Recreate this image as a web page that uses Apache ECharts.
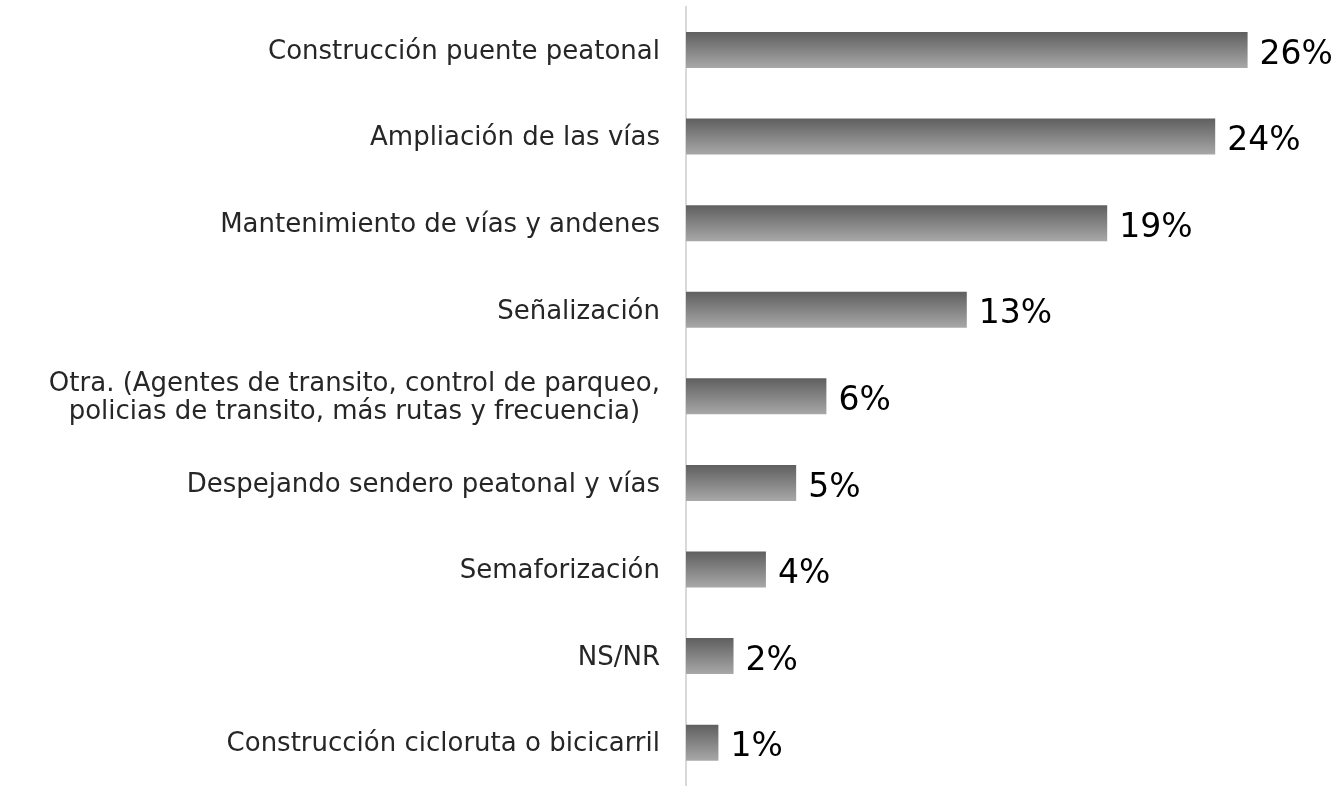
<!DOCTYPE html>
<html>
<head>
<meta charset="utf-8">
<script src="https://cdn.jsdelivr.net/npm/echarts@6/dist/echarts.min.js"></script>
<style>
html,body{margin:0;padding:0;background:#fff;}
#chart{width:1339px;height:786px;}
</style>
</head>
<body>
<div id="chart"></div>
<script>
var categories = [
  'Construcción puente peatonal',
  'Ampliación de las vías',
  'Mantenimiento de vías y andenes',
  'Señalización',
  'Otra. (Agentes de transito, control de parqueo,\npolicias de transito, más rutas y frecuencia)',
  'Despejando sendero peatonal y vías',
  'Semaforización',
  'NS/NR',
  'Construcción cicloruta o bicicarril'
];
var values = [26.0, 24.5, 19.5, 13.0, 6.5, 5.1, 3.7, 2.2, 1.5];
var valueLabels = ['26%', '24%', '19%', '13%', '6%', '5%', '4%', '2%', '1%'];

var chart = echarts.init(document.getElementById('chart'));
chart.setOption({
  animation: false,
  backgroundColor: '#ffffff',
  grid: { left: 686, top: 6.7, bottom: 0, width: 648, outerBoundsMode: 'none', containLabel: false },
  xAxis: { type: 'value', min: 0, max: 30, show: false, splitLine: { show: false } },
  yAxis: {
    type: 'category',
    inverse: true,
    data: categories,
    axisLine: { show: true, lineStyle: { color: '#d9d9d9', width: 2 } },
    axisTick: { show: false },
    axisLabel: {
      margin: 26,
      fontSize: 26,
      color: '#262626',
      fontFamily: 'DejaVu Sans',
      lineHeight: 28,
      padding: [4, 0, 0, 0],
      formatter: function (v) {
        var parts = v.split('\n');
        if (parts.length === 1) return v;
        return parts.map(function (p) { return '{c|' + p + '}'; }).join('\n');
      },
      rich: { c: { align: 'center', fontSize: 26, color: '#262626', fontFamily: 'DejaVu Sans', lineHeight: 28 } }
    }
  },
  series: [{
    type: 'bar',
    data: values,
    barWidth: 36,
    itemStyle: {
      color: new echarts.graphic.LinearGradient(0, 0, 0, 1, [
        { offset: 0, color: '#5f5f5f' },
        { offset: 1, color: '#a8a8a8' }
      ])
    },
    label: {
      show: true,
      position: 'right',
      distance: 12,
      offset: [0, 5],
      fontSize: 33,
      color: '#000000',
      fontFamily: 'DejaVu Sans',
      formatter: function (p) { return valueLabels[p.dataIndex]; }
    }
  }]
});
</script>
</body>
</html>
